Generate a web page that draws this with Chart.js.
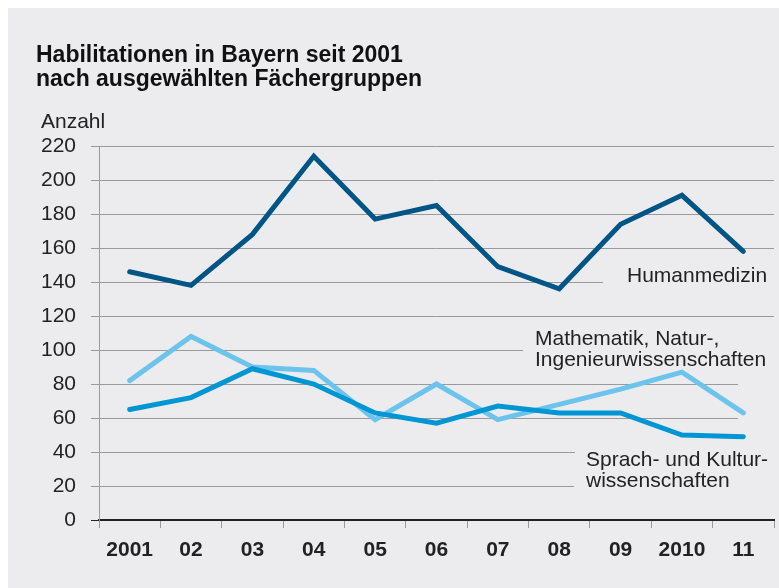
<!DOCTYPE html>
<html>
<head>
<meta charset="utf-8">
<script src="https://cdn.jsdelivr.net/npm/chart.js@4.4.0/dist/chart.umd.min.js"></script>
<style>
  html, body { margin: 0; padding: 0; background: #fff; }
  canvas { display: block; }
</style>
</head>
<body>
<canvas id="chart" width="779" height="588"></canvas>
<script>
// Daten
const years = ['2001', '02', '03', '04', '05', '06', '07', '08', '09', '2010', '11'];
const humanmedizin = [146, 138, 168, 214, 177, 185, 149, 136, 174, 191, 158];
const mathNatur = [82, 108, 90, 88, 59, 80, 59, 68, 77, 87, 63];
const sprachKultur = [65, 72, 89, 80, 63, 57, 67, 63, 63, 50, 49];
const yMin = 0;
const yMax = 220;
const yStep = 20;

const titleLines = ['Habilitationen in Bayern seit 2001', 'nach ausgewählten Fächergruppen'];
const yTitle = 'Anzahl';

// Beschriftungen im Diagramm (Position in Pixeln)
const seriesLabels = [
  { lines: ['Humanmedizin'], x: 627, y: 282 },
  { lines: ['Mathematik, Natur-,', 'Ingenieurwissenschaften'], x: 535, y: 345 },
  { lines: ['Sprach- und Kultur-', 'wissenschaften'], x: 586, y: 466 }
];

// Gitterlinien enden vor den Beschriftungen
const gridEnds = { 140: 603, 100: 523, 80: 738, 60: 738, 40: 575, 20: 574 };

const FONT = '"Liberation Sans", Arial, Helvetica, sans-serif';

const panel = {
  id: 'panel',
  beforeDraw(chart) {
    const c = chart.ctx;
    c.save();
    c.fillStyle = '#fff';
    c.fillRect(0, 0, chart.width, chart.height);
    c.fillStyle = '#ececee';
    c.fillRect(8, 8, chart.width - 8, chart.height - 8);
    c.restore();
  },
  beforeDatasetsDraw(chart) {
    const { ctx, chartArea, scales: { y } } = chart;
    ctx.save();
    ctx.strokeStyle = '#9a9a9a';
    ctx.lineWidth = 1;
    y.ticks.forEach((t) => {
      if (t.value === 0) return;
      const py = Math.round(y.getPixelForValue(t.value)) + 0.5;
      ctx.beginPath();
      ctx.moveTo(chartArea.left, py);
      ctx.lineTo(gridEnds[t.value] || chartArea.right, py);
      ctx.stroke();
    });
    ctx.restore();
  },
  afterDraw(chart) {
    const c = chart.ctx;
    c.save();
    c.textBaseline = 'alphabetic';
    c.textAlign = 'left';
    c.fillStyle = '#111';
    c.font = 'bold 23px ' + FONT;
    titleLines.forEach((line, i) => c.fillText(line, 36, 62 + i * 24));
    c.fillStyle = '#222';
    c.font = '21px ' + FONT;
    c.fillText(yTitle, 41, 128);
    seriesLabels.forEach((lab) => {
      lab.lines.forEach((line, i) => c.fillText(line, lab.x, lab.y + i * 21));
    });
    c.restore();
  }
};

new Chart(document.getElementById('chart'), {
  type: 'line',
  data: {
    labels: years,
    datasets: [
      { label: 'Humanmedizin', data: humanmedizin, borderColor: '#005587' },
      { label: 'Sprach- und Kulturwissenschaften', data: sprachKultur, borderColor: '#0096d3' },
      { label: 'Mathematik, Natur-, Ingenieurwissenschaften', data: mathNatur, borderColor: '#6cc4ec' }
    ]
  },
  options: {
    responsive: false,
    animation: false,
    devicePixelRatio: 1,
    layout: { padding: { top: 146, right: 5, left: 0, bottom: 0 } },
    elements: {
      line: { borderWidth: 5, tension: 0, borderCapStyle: 'round', borderJoinStyle: 'miter', fill: false },
      point: { radius: 0, hoverRadius: 0 }
    },
    plugins: {
      legend: { display: false },
      tooltip: { enabled: false }
    },
    scales: {
      x: {
        offset: true,
        afterFit: (s) => { s.height = 68; },
        grid: {
          offset: true,
          drawOnChartArea: false,
          drawTicks: true,
          tickLength: 8,
          color: '#9a9a9a'
        },
        border: { display: true, color: '#222', width: 2 },
        ticks: {
          padding: 10,
          color: '#222',
          font: { family: FONT, size: 21, weight: 'bold' },
          maxRotation: 0,
          autoSkip: false
        }
      },
      y: {
        min: yMin,
        max: yMax,
        afterFit: (s) => { s.width = 99; },
        grid: {
          drawOnChartArea: false,
          drawTicks: true,
          tickLength: 8,
          color: (ctx) => (ctx.tick && ctx.tick.value === 0 ? '#222' : '#9a9a9a')
        },
        border: { display: true, color: '#9a9a9a', width: 1 },
        ticks: {
          stepSize: yStep,
          padding: 15,
          color: '#222',
          font: { family: FONT, size: 21 }
        }
      }
    }
  },
  plugins: [panel]
});
</script>
</body>
</html>
